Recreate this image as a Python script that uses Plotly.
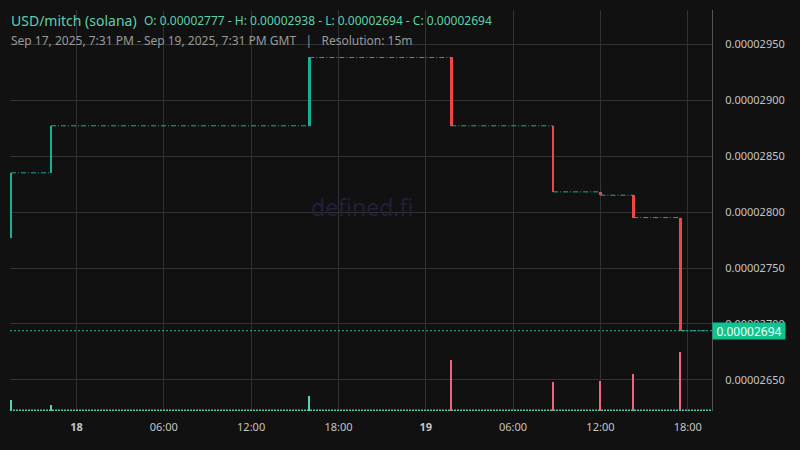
import pandas as pd
import plotly.graph_objects as go

# 15m candles where price actually moved (all other bars are flat at the previous close)
bar_times = ["2025-09-17 19:30", "2025-09-17 22:15", "2025-09-18 16:00", "2025-09-19 01:45",
             "2025-09-19 08:45", "2025-09-19 12:00", "2025-09-19 14:15", "2025-09-19 17:30"]
opens = [0.00002777, 0.00002835, 0.00002877, 0.00002938, 0.00002877, 0.00002818, 0.00002815, 0.00002795]
closes = [0.00002835, 0.00002877, 0.00002938, 0.00002877, 0.00002818, 0.00002815, 0.00002795, 0.00002694]
volumes = [11, 6, 15, 51, 29, 30, 37, 59]  # relative volume
last_bar_end = "2025-09-19 19:22"

tick_times = ["2025-09-18 00:00", "2025-09-18 06:00", "2025-09-18 12:00", "2025-09-18 18:00",
              "2025-09-19 00:00", "2025-09-19 06:00", "2025-09-19 12:00", "2025-09-19 18:00"]
tick_text = ["<b>18</b>", "06:00", "12:00", "18:00", "<b>19</b>", "06:00", "12:00", "18:00"]
price_ticks = [0.00002650, 0.00002700, 0.00002750, 0.00002800, 0.00002850, 0.00002900, 0.00002950]

BG = "#111111"
UP = "#17b096"
DOWN = "#ef4747"
GRID = "#323232"
FONT = "Noto Sans"

t = pd.to_datetime(bar_times)
bases = [min(o, c) for o, c in zip(opens, closes)]
heights = [max(abs(c - o), 0.3e-8) for o, c in zip(opens, closes)]
colors = [UP if c >= o else DOWN for o, c in zip(opens, closes)]
vol_colors = ["#5ad3b3" if c >= o else "#f0647c" for o, c in zip(opens, closes)]

# flat segments between moves
seg_x, seg_y = [], []
ends = list(t[1:]) + [pd.Timestamp(last_bar_end)]
for start, end, c in zip(t, ends, closes):
    seg_x += [start, end, None]
    seg_y += [c, c, None]

fig = go.Figure()
fig.add_trace(go.Bar(x=t, y=volumes, yaxis="y2", marker_color=vol_colors,
                     marker_line_width=0, width=6 * 60 * 1000, hoverinfo="skip"))
fig.add_trace(go.Scatter(x=seg_x, y=seg_y, mode="lines",
                         line=dict(color="#22a896", width=1, dash="5px,2px,1px,2px"),
                         hoverinfo="skip"))
fig.add_trace(go.Bar(x=t, y=heights, base=bases, marker_color=colors, marker_line_width=0,
                     width=11 * 60 * 1000))

fig.update_layout(
    width=800, height=450,
    margin=dict(l=10, r=88, t=10, b=39),
    paper_bgcolor=BG, plot_bgcolor=BG,
    showlegend=False, bargap=0, barmode="overlay",
    font=dict(family=FONT, color="#bdbdbd", size=11),
    xaxis=dict(type="date", range=["2025-09-17 19:26", "2025-09-19 19:40"],
               tickvals=pd.to_datetime(tick_times), ticktext=tick_text,
               showgrid=True, gridcolor=GRID, gridwidth=1, zeroline=False,
               showline=False, ticks="", ticklabelstandoff=8,
               tickfont=dict(size=11, color="#c4c4c4")),
    yaxis=dict(side="right", range=[0.000026223, 0.000029804], tickvals=price_ticks,
               tickformat=".8f", showgrid=True, gridcolor=GRID, gridwidth=1,
               zeroline=False, showline=True, linecolor="#555555", linewidth=1,
               ticks="", ticklabelstandoff=10, tickfont=dict(size=11, color="#c4c4c4")),
    yaxis2=dict(overlaying="y", range=[0, 401], visible=False, fixedrange=True),
)

# header background hides the grid behind the legend text
fig.add_shape(type="rect", xref="paper", yref="paper", x0=-0.02, x1=0.7023, y0=0.8928, y1=1.01,
              fillcolor=BG, line_width=0, layer="between")
# last price line and zero-volume baseline
fig.add_shape(type="line", xref="paper", yref="y", x0=0, x1=1, y0=closes[-1], y1=closes[-1],
              line=dict(color="#2bb39c", width=1, dash="2px,2px"))
fig.add_shape(type="line", xref="paper", yref="paper", x0=0, x1=1, y0=0.002, y1=0.002,
              line=dict(color="#4fc9aa", width=1.5, dash="2px,1px"))

fig.add_annotation(text="defined.fi", xref="paper", yref="paper", x=0.5014, y=0.5087,
                   showarrow=False, font=dict(family=FONT, size=23, color="#221f3a"))
fig.add_annotation(text="USD/mitch (solana)", xref="paper", yref="paper", x=-0.002, y=0.975,
                   xanchor="left", yanchor="middle", showarrow=False,
                   font=dict(family=FONT, size=14, color="#5fd0ae"))
fig.add_annotation(text="O: 0.00002777 - H: 0.00002938 - L: 0.00002694 - C: 0.00002694",
                   xref="paper", yref="paper", x=0.1875, y=0.975, xanchor="left", yanchor="middle",
                   showarrow=False, font=dict(family=FONT, size=12, color="#5fd0ae"))
fig.add_annotation(text="Sep 17, 2025, 7:31 PM - Sep 19, 2025, 7:31 PM GMT\u00a0\u00a0\u00a0|\u00a0\u00a0\u00a0Resolution: 15m",
                   xref="paper", yref="paper", x=-0.002, y=0.925, xanchor="left", yanchor="middle",
                   showarrow=False, font=dict(family=FONT, size=12, color="#9a9a9a"))
# last price tag sits on top of the 0.00002700 label, as in the source chart
fig.add_annotation(text="0.00002694", xref="paper", yref="y", x=1, y=closes[-1],
                   xanchor="left", yanchor="middle", showarrow=False, bgcolor="#0fc28e",
                   width=70, height=14, borderpad=1, align="center",
                   font=dict(family=FONT, size=12, color="#f2fffa"))

# drop the default page margin so the figure sits at the window's top-left corner
fig.write_html("out.html", config={"displayModeBar": False},
               post_script="document.body.style.margin='0';document.body.style.background='#111111';")
